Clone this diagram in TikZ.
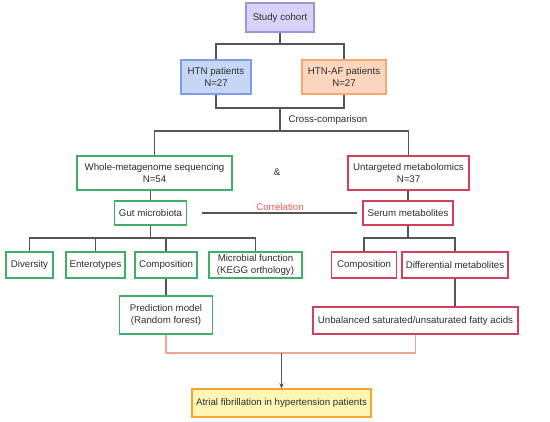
\documentclass[tikz,border=0pt]{standalone}
\usepackage{fontspec}
\setmainfont{Liberation Sans}
\usetikzlibrary{arrows.meta}
\definecolor{txt}{HTML}{2E2E2E}
\definecolor{ln}{HTML}{555555}
\definecolor{grn}{HTML}{3FAE67}
\definecolor{rd}{HTML}{D33F5C}
\definecolor{org}{HTML}{F4A394}
\definecolor{purD}{RGB}{160,144,226}
\definecolor{purF}{RGB}{217,210,247}
\definecolor{bluD}{RGB}{124,157,230}
\definecolor{bluF}{RGB}{198,214,244}
\definecolor{pchD}{RGB}{247,168,110}
\definecolor{pchF}{RGB}{251,213,190}
\definecolor{ylwD}{RGB}{245,165,42}
\definecolor{ylwF}{RGB}{255,246,181}
\definecolor{corrC}{RGB}{240,90,80}
\tikzset{
  box/.style={draw, line width=1.3pt, inner sep=0pt, align=center, text=txt,
    font=\fontsize{9.7}{11.6}\selectfont},
  gbox/.style={box, draw=grn, fill=white},
  rbox/.style={box, draw=rd, fill=white},
  conn/.style={draw=ln, line width=1.2pt},
  oconn/.style={draw=org, line width=1.4pt},
  lbl/.style={text=txt, font=\fontsize{9.7}{11.6}\selectfont, inner sep=0pt}
}
\begin{document}
\begin{tikzpicture}[x=1pt,y=-1pt]
\useasboundingbox[fill=white] (0,0) rectangle (550,422);
% nodes
\node[box, draw=purD, fill=purF, minimum width=68pt, minimum height=29pt] (study) at (280,17.5) {Study cohort};
\node[box, draw=bluD, fill=bluF, minimum width=70pt, minimum height=34pt] (htn) at (216,77) {HTN patients\\N=27};
\node[box, draw=pchD, fill=pchF, minimum width=84pt, minimum height=34pt] (htnaf) at (344,77) {HTN-AF patients\\N=27};
\node[gbox, minimum width=155pt, minimum height=34pt] (wms) at (154.5,173) {Whole-metagenome sequencing\\N=54};
\node[rbox, minimum width=121pt, minimum height=34pt] (um) at (408.5,173) {Untargeted metabolomics\\N=37};
\node[gbox, minimum width=72pt, minimum height=24pt] (gut) at (150.5,213) {Gut microbiota};
\node[rbox, minimum width=90pt, minimum height=24pt] (serum) at (408,213) {Serum metabolites};
\node[gbox, minimum width=47pt, minimum height=26pt] (div) at (29.5,265) {Diversity};
\node[gbox, minimum width=59pt, minimum height=26pt] (ent) at (95.5,265) {Enterotypes};
\node[gbox, minimum width=62pt, minimum height=26pt] (comp) at (166,265) {Composition};
\node[gbox, minimum width=93pt, minimum height=26pt] (mf) at (255.5,265) {Microbial function\\(KEGG orthology)};
\node[rbox, minimum width=65pt, minimum height=26pt] (comp2) at (364,265) {Composition};
\node[rbox, minimum width=106pt, minimum height=26pt] (diff) at (455,265) {Differential metabolites};
\node[gbox, minimum width=93pt, minimum height=38pt] (pred) at (166,315) {Prediction model\\(Random forest)};
\node[rbox, minimum width=205pt, minimum height=27pt] (unb) at (415.5,320.5) {Unbalanced saturated/unsaturated fatty acids};
\node[box, draw=ylwD, fill=ylwF, minimum width=179pt, minimum height=28pt] (af) at (281.5,403) {Atrial fibrillation in hypertension patients};
% labels
\node[lbl] (cross) at (328,119.5) {Cross-comparison};
\node[lbl] (amp) at (277,172) {\&};
\node[lbl, text=corrC] (corr) at (280,207) {Correlation};
% junctions
\coordinate (j1) at (280,44);
\coordinate (j2) at (280,108);
\coordinate (j3) at (280,131);
\coordinate (j4) at (150.5,238);
\coordinate (j5) at (408,238);
\coordinate (j6) at (281.5,353);
% connectors
\draw[conn] (study.south) -- (j1);
\draw[conn] (htn.north) |- (j1) -| (htnaf.north);
\draw[conn] (htn.south) |- (j2) -| (htnaf.south);
\draw[conn] (j2) -- (j3);
\draw[conn] (wms.north) |- (j3) -| (um.north);
\draw[conn] (wms.south -| gut.north) -- (gut.north);
\draw[conn] (um.south -| serum.north) -- (serum.north);
\draw[conn] ([xshift=15pt]gut.east) -- ([xshift=-5pt]serum.west);
\draw[conn] (gut.south) -- (j4);
\draw[conn] (div.north) |- (j4) -| (mf.north);
\draw[conn] (ent.north) -- (ent.north |- j4);
\draw[conn] (comp.north) -- (comp.north |- j4);
\draw[conn] (serum.south) -- (j5);
\draw[conn] (comp2.north) |- (j5) -| (diff.north);
\draw[conn] (comp.south) -- (pred.north);
\draw[conn] (diff.south) -- (diff.south |- unb.north);
\draw[oconn] (pred.south) |- (j6) -| (unb.south);
\draw[conn, -{Stealth[length=5pt,width=4.5pt]}] (j6) -- (af.north);
\end{tikzpicture}
\end{document}
